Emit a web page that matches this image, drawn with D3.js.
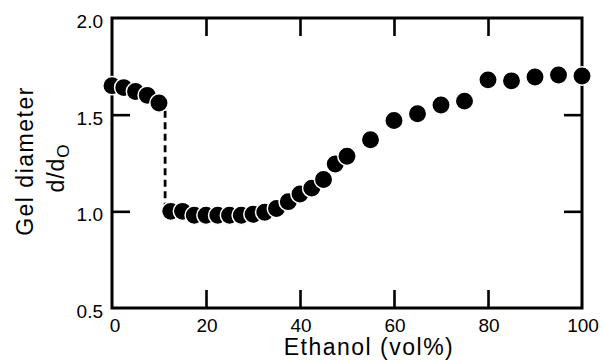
<!DOCTYPE html>
<html>
<head>
<meta charset="utf-8">
<script src="https://cdn.jsdelivr.net/npm/d3@7"></script>
<style>
  body { margin: 0; background: #fff; overflow: hidden; }
  text { font-family: "Liberation Sans", Arial, Helvetica, sans-serif; fill: #000; }
</style>
</head>
<body>
<div id="chart"></div>
<script>
// swollen branch (below the transition)
var ethanolUpper = [0, 2.5, 5, 7.5, 10];
var diameterUpper = [1.65, 1.64, 1.62, 1.60, 1.56];

// collapsed branch and re-swelling
var ethanolLower = [12.5, 15, 17.5, 20, 22.5, 25, 27.5, 30, 32.5, 35, 37.5, 40, 42.5, 45, 47.5, 50,
                    55, 60, 65, 70, 75, 80, 85, 90, 95, 100];
var diameterLower = [1.00, 1.00, 0.98, 0.98, 0.98, 0.98, 0.98, 0.985, 0.995, 1.015, 1.05, 1.09, 1.12, 1.165, 1.245, 1.285,
                     1.37, 1.47, 1.505, 1.55, 1.57, 1.68, 1.675, 1.695, 1.705, 1.70];

// dashed jump between the branches
var jumpEthanol = 11.3;
var jumpDiameter = [1.52, 1.03];

var xTickLabels = [0, 20, 40, 60, 80, 100];
var xInnerTicks = [20, 40, 60, 80];
var yTickLabels = [0.5, 1.0, 1.5, 2.0];
var yInnerTicks = [1.0, 1.5];

var width = 603;
var height = 363;
var margin = { top: 18, right: 21, bottom: 55, left: 112 };
var innerWidth = width - margin.left - margin.right;
var innerHeight = height - margin.top - margin.bottom;

var svg = d3.select('#chart')
    .append('svg')
    .attr('width', width)
    .attr('height', height)
    .style('display', 'block');

var g = svg.append('g')
    .attr('transform', 'translate(' + margin.left + ',' + margin.top + ')');

var x = d3.scaleLinear().domain([0, 100]).range([0, innerWidth]);
var y = d3.scaleLinear().domain([0.5, 2.0]).range([innerHeight, 0]);

var tickLen = 18;

// inward ticks on all four sides
function styleTicks(sel) {
    sel.select('.domain').remove();
    sel.selectAll('line').attr('stroke', '#000').attr('stroke-width', 2.6);
}

g.append('g')
    .attr('transform', 'translate(0,' + innerHeight + ')')
    .call(d3.axisBottom(x).tickValues(xInnerTicks).tickSize(-tickLen).tickFormat(''))
    .call(styleTicks);
g.append('g')
    .call(d3.axisTop(x).tickValues(xInnerTicks).tickSize(-tickLen).tickFormat(''))
    .call(styleTicks);
g.append('g')
    .call(d3.axisLeft(y).tickValues(yInnerTicks).tickSize(-tickLen).tickFormat(''))
    .call(styleTicks);
g.append('g')
    .attr('transform', 'translate(' + innerWidth + ',0)')
    .call(d3.axisRight(y).tickValues(yInnerTicks).tickSize(-tickLen).tickFormat(''))
    .call(styleTicks);

// frame
g.append('rect')
    .attr('x', 0)
    .attr('y', 0)
    .attr('width', innerWidth)
    .attr('height', innerHeight)
    .attr('fill', 'none')
    .attr('stroke', '#000')
    .attr('stroke-width', 3);

// tick labels
g.selectAll('.xlabel')
    .data(xTickLabels)
    .enter()
    .append('text')
    .attr('class', 'xlabel')
    .attr('x', function(d) { return x(d) + (d === 0 ? 3 : 1); })
    .attr('y', innerHeight + 24)
    .attr('text-anchor', 'middle')
    .style('font-size', '19px')
    .text(d3.format('d'));

g.selectAll('.ylabel')
    .data(yTickLabels)
    .enter()
    .append('text')
    .attr('class', 'ylabel')
    .attr('x', -9)
    .attr('y', function(d) { return y(d) + 10; })
    .attr('text-anchor', 'end')
    .style('font-size', '19px')
    .text(d3.format('.1f'));

// dashed transition line
g.append('line')
    .attr('x1', x(jumpEthanol))
    .attr('x2', x(jumpEthanol))
    .attr('y1', y(jumpDiameter[0]))
    .attr('y2', y(jumpDiameter[1]))
    .attr('stroke', '#000')
    .attr('stroke-width', 2.8)
    .attr('stroke-dasharray', '7,4.5');

// points, drawn left to right so each one overlaps the previous
var points = ethanolUpper.map(function(e, i) { return { e: e, d: diameterUpper[i] }; })
    .concat(ethanolLower.map(function(e, i) { return { e: e, d: diameterLower[i] }; }));

g.selectAll('.dot')
    .data(points)
    .enter()
    .append('circle')
    .attr('class', 'dot')
    .attr('cx', function(d) { return x(d.e); })
    .attr('cy', function(d) { return y(d.d); })
    .attr('r', 9.2)
    .attr('fill', '#000')
    .attr('stroke', '#fff')
    .attr('stroke-width', 1.5);

// axis titles
svg.append('text')
    .attr('x', 369)
    .attr('y', 355)
    .attr('text-anchor', 'middle')
    .style('font-size', '23px')
    .style('letter-spacing', '1.5px')
    .text('Ethanol (vol%)');

svg.append('text')
    .attr('transform', 'translate(33,161) rotate(-90)')
    .attr('text-anchor', 'middle')
    .style('font-size', '23px')
    .style('letter-spacing', '1.5px')
    .text('Gel diameter');

var sub = svg.append('text')
    .attr('transform', 'translate(64,168) rotate(-90)')
    .attr('text-anchor', 'middle')
    .style('font-size', '23px')
    .style('letter-spacing', '1px');
sub.append('tspan').text('d/d');
sub.append('tspan')
    .attr('dy', 5)
    .style('font-size', '17px')
    .text('O');
</script>
</body>
</html>
